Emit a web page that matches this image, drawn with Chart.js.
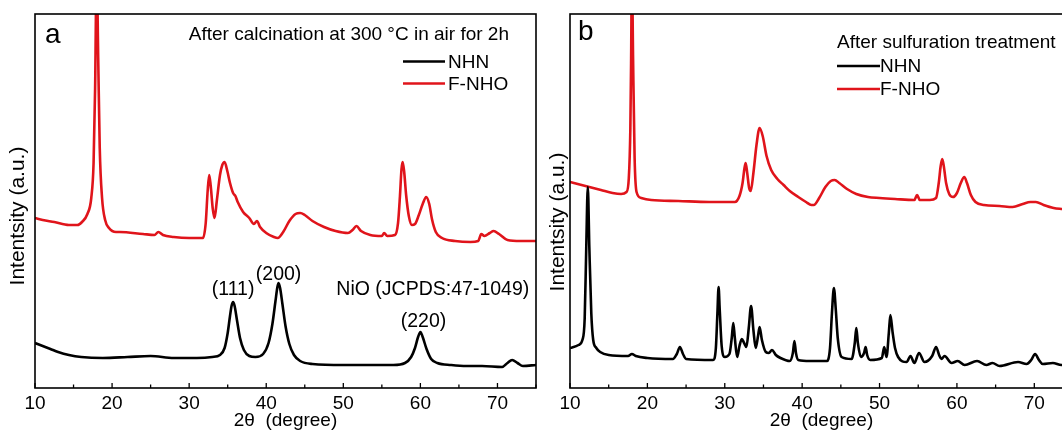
<!DOCTYPE html>
<html>
<head>
<meta charset="utf-8">
<script src="https://cdn.jsdelivr.net/npm/chart.js@4.4.1/dist/chart.umd.min.js"></script>
<style>
  html, body { margin: 0; padding: 0; background: #fff; overflow: hidden; }
  body { width: 1062px; height: 432px; position: relative; }
  #chartA { position: absolute; left: 0; top: 0; }
  #chartB { position: absolute; left: 540px; top: 0; }
</style>
</head>
<body>
<canvas id="chartA" width="540" height="432"></canvas>
<canvas id="chartB" width="540" height="432"></canvas>
<script>
// 2θ (degree), intensity (a.u.)
var calcNHN = [
  [10,45],[11,42],[12,39],[13,36],[14.4,33],[16,31],[18.8,30],[22,31],[25,32],[28,30],[31,30],[33,31],
  [34,33],[34.6,40],[35,55],[35.3,72],[35.5,82],[35.7,86],[35.9,82],[36.2,68],[36.6,50],[37.1,38],[37.8,32],[38.6,31],
  [39.6,34],[40.3,45],[40.8,64],[41.2,87],[41.45,101],[41.6,105],[41.8,100],[42.1,84],[42.5,62],[43,44],[43.6,33],[44.4,27],
  [46,24],[50,23],[54,23],[56.5,23],[58,25],[58.8,31],[59.3,40],[59.7,51],[60,56],[60.3,51],[60.8,39],[61.4,29],[62.2,25],
  [64,23],[66,22],[68,22],[70.6,21],[71.3,25],[71.9,28],[72.6,25],[73.3,22],[75,23]
];
var calcFNHO = [
  [10,170],[11,168],[12.5,166],[14.4,163],[15.5,163],[16.1,166],[16.8,174],[17.3,190],[17.6,225],[17.8,300],[18,420],
  [18.2,330],[18.4,240],[18.7,190],[19.1,168],[19.6,160],[20.5,156],[21,156],[24,154],[25.5,153],[26,156],[26.6,153],
  [28,151],[30,150],[31.8,150],[32.15,165],[32.4,197],[32.6,213],[32.8,202],[33.05,180],[33.3,170],[33.6,188],[34,213],
  [34.3,223],[34.6,226],[34.95,217],[35.3,205],[35.7,195],[36,192],[36.3,186],[37,176],[37.8,170],[38.4,164],[38.8,167],
  [39.2,161],[40,155],[41,151],[41.5,150],[42.2,156],[43,167],[43.8,174],[44.4,175],[45,173],[46,167],[47.5,161],[49,157],
  [50.6,155],[51.2,158],[51.7,162],[52.3,157],[53.5,153],[55,152],[55.3,155],[55.7,152],[56.7,153],[57.1,165],[57.35,192],
  [57.55,219],[57.7,226],[57.9,216],[58.15,193],[58.5,172],[58.9,163],[59.3,164],[59.8,173],[60.3,184],[60.75,191],
  [61.15,184],[61.5,169],[62,156],[62.8,150],[64.5,147],[66.5,146],[67.5,147],[67.9,154],[68.3,152],[69,155],[69.5,157],
  [70.2,154],[71.3,148],[73,147],[75,147]
];
var sulfNHN = [
  [10,40],[11.1,43],[11.6,48],[11.9,70],[12.1,140],[12.3,201],[12.5,140],[12.75,75],[13,48],[13.4,40],[13.9,36],[15,33],
  [17.5,32],[18,34],[18.5,32],[20,30],[23.3,29],[23.8,34],[24.2,41],[24.6,34],[25,29],[28.5,28],[28.85,40],[29.05,75],
  [29.2,101],[29.35,78],[29.6,42],[30,31],[30.6,34],[30.9,50],[31.1,65],[31.3,50],[31.6,31],[31.9,42],[32.2,49],[32.5,45],
  [32.8,41],[33.1,60],[33.4,82],[33.7,58],[34,40],[34.3,52],[34.5,61],[34.8,48],[35.3,36],[35.7,35],[36.1,38],[36.6,33],
  [37.2,30],[38.4,27],[38.8,35],[39,47],[39.2,35],[39.5,28],[41,27],[43.2,27],[43.6,40],[43.85,75],[44.1,100],[44.35,78],
  [44.6,50],[45.1,31],[46.4,29],[46.8,45],[47,60],[47.2,45],[47.6,31],[48,35],[48.2,41],[48.4,33],[48.8,28],[50.3,30],
  [50.6,41],[50.9,31],[51.2,55],[51.4,73],[51.7,55],[52,40],[52.4,31],[53.5,26],[54,32],[54.5,25],[55.1,35],[55.8,26],
  [56.8,32],[57.3,41],[57.7,33],[58,29],[58.4,32],[59.3,25],[60.1,27],[61,23],[62.6,27],[63.8,23],[64.6,25],[65.5,22],
  [67.9,26],[69,24],[69.6,28],[70.1,34],[70.6,28],[71.1,24],[72.4,25],[73.5,23],[75,23]
];
var sulfFNHO = [
  [10,206],[11,204],[12.5,201],[14,198],[15.5,195],[16.6,194],[17.3,196],[17.6,210],[17.8,260],[17.9,330],[18,420],
  [18.15,330],[18.35,230],[18.6,196],[19.2,190],[20.5,188],[24,187],[28,186],[31.3,186],[31.9,192],[32.3,205],[32.55,220],
  [32.7,225],[32.9,215],[33.15,200],[33.35,197],[33.7,215],[34.1,243],[34.5,260],[34.9,252],[35.4,232],[36,218],[36.8,209],
  [37.6,203],[38.4,197],[39.5,191],[40.5,186],[41.2,183],[41.5,183],[42.2,190],[43,201],[43.7,207],[44.2,208],[44.8,205],
  [45.8,199],[47,194],[48.5,191],[50,190],[52,189],[54.5,188],[54.85,193],[55.2,188],[56.5,188],[57.3,190],[57.65,205],
  [57.9,222],[58.1,229],[58.3,222],[58.6,205],[59,194],[59.5,191],[60,195],[60.5,205],[60.95,211],[61.3,205],[61.8,193],
  [62.4,186],[63.5,183],[65.5,182],[67.2,181],[68.5,184],[69.5,186],[70.2,186],[71.2,183],[72.5,180],[73.5,179],[75,178]
];
var seriesNames = ['NHN', 'F-NHO'];
var seriesColors = ['#000000', '#e0141b'];
var xTicksMajor = [10, 20, 30, 40, 50, 60, 70];

var FONT = "'Liberation Sans', Arial, sans-serif";

// frame, inward ticks, legend and in-plot labels
var decor = {
  id: 'decor',
  afterDraw: function (chart, args, o) {
    var ctx = chart.ctx, a = chart.chartArea, xs = chart.scales.x, ys = chart.scales.y;
    ctx.save();
    ctx.strokeStyle = '#000';
    ctx.lineWidth = 1.6;
    ctx.strokeRect(a.left, a.top, a.right - a.left, a.bottom - a.top);
    ctx.lineWidth = 1.3;
    xs.ticks.forEach(function (t) {
      var px = xs.getPixelForValue(t.value);
      var len = xTicksMajor.indexOf(t.value) >= 0 ? 5 : 3.5;
      ctx.beginPath();
      ctx.moveTo(px, a.bottom);
      ctx.lineTo(px, a.bottom - len);
      ctx.stroke();
    });

    ctx.fillStyle = '#000';
    // y title
    ctx.save();
    ctx.translate(o.yTitle.x, o.yTitle.y);
    ctx.rotate(-Math.PI / 2);
    ctx.font = '21px ' + FONT;
    ctx.textAlign = 'center';
    ctx.textBaseline = 'middle';
    ctx.fillText('Intentsity (a.u.)', 0, 0);
    ctx.restore();

    // panel letter
    ctx.font = '28px ' + FONT;
    ctx.textAlign = 'left';
    ctx.textBaseline = 'alphabetic';
    ctx.fillText(o.letter.text, o.letter.x, o.letter.y);

    // header + legend
    ctx.font = '19px ' + FONT;
    ctx.textBaseline = 'middle';
    ctx.textAlign = o.header.align;
    ctx.fillText(o.header.text, o.header.x, o.header.y);
    ctx.textAlign = 'left';
    chart.data.datasets.forEach(function (ds, i) {
      var ly = o.legend.y + i * o.legend.step;
      ctx.strokeStyle = ds.borderColor;
      ctx.lineWidth = 2.4;
      ctx.beginPath();
      ctx.moveTo(o.legend.x, ly);
      ctx.lineTo(o.legend.x + o.legend.len, ly);
      ctx.stroke();
      ctx.fillText(ds.label, o.legend.x + o.legend.len + o.legend.gap, ly + 1);
    });

    // peak labels in data coordinates
    ctx.font = '19.5px ' + FONT;
    (o.notes || []).forEach(function (n) {
      ctx.textAlign = n.align || 'center';
      ctx.fillText(n.text, xs.getPixelForValue(n.x), ys.getPixelForValue(n.y));
    });
    ctx.restore();
  }
};

function toPts(arr) {
  return arr.map(function (p) { return { x: p[0], y: p[1] }; });
}

function makePanel(id, nhn, fnho, pad, deco) {
  var ctx = document.getElementById(id).getContext('2d');
  return new Chart(ctx, {
    type: 'line',
    data: {
      datasets: [nhn, fnho].map(function (d, i) {
        return {
          label: seriesNames[i],
          data: toPts(d),
          borderColor: seriesColors[i],
          borderWidth: 2.6,
          pointRadius: 0,
          cubicInterpolationMode: 'monotone',
          clip: 0
        };
      })
    },
    options: {
      responsive: false,
      animation: false,
      layout: { padding: pad },
      plugins: {
        legend: { display: false },
        tooltip: { enabled: false },
        decor: deco
      },
      scales: {
        x: {
          type: 'linear',
          min: 10,
          max: 75,
          grid: { display: false, drawTicks: false },
          border: { display: false },
          ticks: {
            stepSize: 5,
            autoSkip: false,
            maxRotation: 0,
            padding: 4,
            color: '#000',
            font: { family: FONT, size: 19 },
            callback: function (v) { return xTicksMajor.indexOf(v) >= 0 ? v : ''; }
          },
          title: {
            display: true,
            text: '2θ  (degree)',
            color: '#000',
            font: { family: FONT, size: 19 },
            padding: { top: 0, bottom: 0 }
          },
          afterFit: function (s) { s.height = 44; }
        },
        y: {
          display: false,
          min: 0,
          max: 374
        }
      }
    },
    plugins: [decor]
  });
}

makePanel('chartA', calcNHN, calcFNHO, { left: 35, right: 2, top: 14, bottom: 0 }, {
  yTitle: { x: 18, y: 216 },
  letter: { text: 'a', x: 45, y: 42.5 },
  header: { text: 'After calcination at 300 °C in air for 2h', x: 509, y: 35, align: 'right' },
  legend: { x: 403, y: 61.5, step: 22, len: 42, gap: 3 },
  notes: [
    { text: '(111)', x: 35.7, y: 98 },
    { text: '(200)', x: 41.6, y: 113 },
    { text: '(220)', x: 60.4, y: 66 },
    { text: 'NiO (JCPDS:47-1049)', x: 49.1, y: 98, align: 'left' }
  ]
});

makePanel('chartB', sulfNHN, sulfFNHO, { left: 30, right: 7, top: 14, bottom: 0 }, {
  yTitle: { x: 18, y: 222 },
  letter: { text: 'b', x: 38, y: 39.5 },
  header: { text: 'After sulfuration treatment', x: 297, y: 43, align: 'left' },
  legend: { x: 297, y: 66, step: 23, len: 43, gap: 0 }
});
</script>
</body>
</html>
